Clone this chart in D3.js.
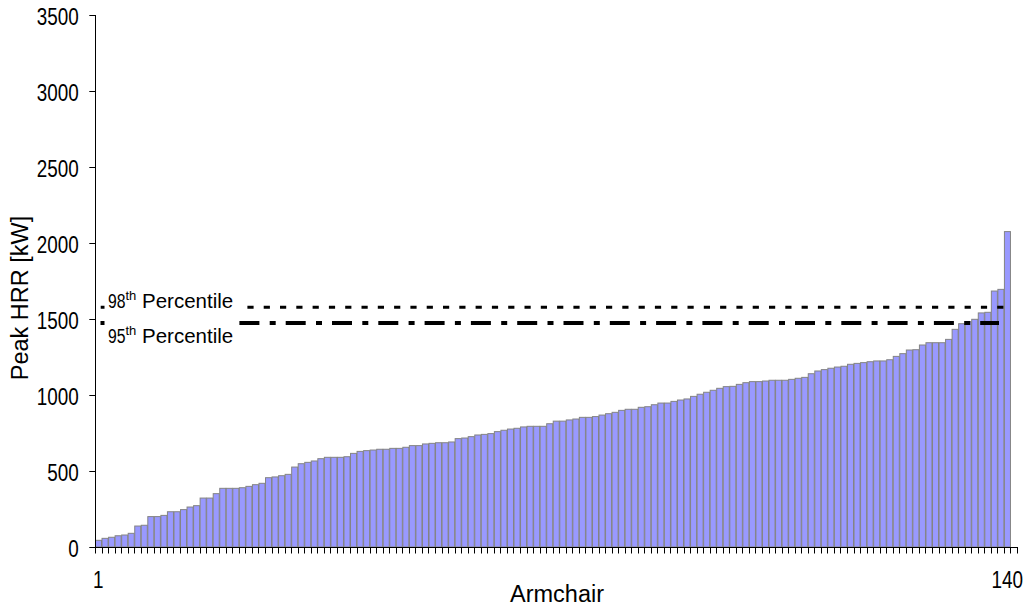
<!DOCTYPE html>
<html>
<head>
<meta charset="utf-8">
<script src="https://cdn.jsdelivr.net/npm/d3@7"></script>
<style>
  body { margin: 0; background: #fff; }
  text { font-family: "Liberation Sans", Arial, sans-serif; fill: #000; }
</style>
</head>
<body>
<div id="container"></div>
<script>
// peak heat release rate of each armchair, sorted (kW)
let peakHRR = [
  44, 57, 64, 74, 79, 90, 138, 143, 200, 200,
  208, 232, 232, 246, 263, 272, 322, 322, 351, 386,
  386, 386, 390, 399, 410, 419, 456, 461, 469, 478,
  526, 548, 557, 566, 581, 590, 590, 590, 594, 616,
  629, 634, 638, 643, 643, 649, 649, 656, 667, 667,
  678, 682, 686, 686, 691, 713, 717, 726, 737, 741,
  746, 759, 768, 776, 781, 790, 794, 794, 794, 811,
  828, 828, 836, 842, 853, 853, 858, 868, 877, 886,
  899, 906, 906, 919, 923, 936, 947, 947, 958, 967,
  974, 991, 1005, 1018, 1031, 1044, 1055, 1057, 1070, 1081,
  1088, 1088, 1092, 1097, 1097, 1097, 1103, 1110, 1116, 1140,
  1158, 1167, 1176, 1184, 1189, 1202, 1208, 1213, 1219, 1224,
  1224, 1232, 1254, 1272, 1296, 1298, 1329, 1344, 1344, 1344,
  1366, 1432, 1469, 1482, 1498, 1540, 1544, 1684, 1695, 2075
];
// one empty slot at the end of the category axis, as in the original sheet
let armchairs = d3.range(1, peakHRR.length + 2);
let xLabels = [1, 140];
let yTicks = [0, 500, 1000, 1500, 2000, 2500, 3000, 3500];
let percentiles = [
  {name: "98", value: 1577},
  {name: "95", value: 1474}
];

// the digits in the original are narrower than the letters
let digitWidth = 10.5;

let svg = d3.select("#container")
  .append("svg")
    .attr("width", 1028)
    .attr("height", 607)
;

let x = d3.scaleBand()
  .domain(armchairs)
  .range([95, 1017])
  .padding(0);

let y = d3.scaleLinear()
  .domain([0, 3500])
  .range([547, 15]);

// bars
svg.selectAll(".bar")
  .data(peakHRR)
  .enter()
  .append("rect")
    .attr("class", "bar")
    .attr("x", (d, i) => x(armchairs[i]) + 0.5)
    .attr("y", d => y(d))
    .attr("width", x.bandwidth() - 0.5)
    .attr("height", d => y(0) - y(d))
    .attr("fill", "#9999ff")
    .attr("stroke", "#848484")
    .attr("stroke-width", 1)
;

// percentile lines
function lineStyle(p) {
  return p.name == "98" ? "6.2,10.1" : "20,10.3,6,10";
}
svg.selectAll(".pline")
  .data(percentiles)
  .enter()
  .append("line")
    .attr("class", "pline")
    .attr("x1", d => d.name == "98" ? 100.7 : 100.5)
    .attr("x2", d => d.name == "98" ? 1004 : 999)
    .attr("y1", d => y(d.value))
    .attr("y2", d => y(d.value))
    .attr("stroke", "#000")
    .attr("stroke-width", d => d.name == "98" ? 3 : 4)
    .attr("stroke-dasharray", lineStyle)
;

// white label box over the start of the lines
svg.append("rect")
  .attr("x", 104.5)
  .attr("y", 288)
  .attr("width", 134)
  .attr("height", 60)
  .attr("fill", "#fff");

let labels = svg.selectAll(".plabel")
  .data(percentiles)
  .enter()
  .append("text")
    .attr("class", "plabel")
    .attr("x", 108)
    .attr("y", (d, i) => i == 0 ? 307.5 : 343)
    .style("font-size", "20.5px")
;
labels.append("tspan")
  .attr("textLength", 17.5)
  .attr("lengthAdjust", "spacingAndGlyphs")
  .text(d => d.name);
labels.append("tspan").attr("dy", -8).style("font-size", "13px").text("th");
labels.append("tspan").attr("dy", 8).text(" Percentile");

// y axis
let yAxis = svg.append("g")
  .attr("transform", "translate(95,0)")
  .call(d3.axisLeft(y).tickValues(yTicks).tickSize(5.7).tickPadding(10.5).tickFormat(d3.format("d")));
yAxis.select(".domain").attr("stroke", "#000").attr("d", "M0.5,15V547.5");
yAxis.selectAll(".tick line").attr("stroke", "#000");
yAxis.selectAll(".tick text")
  .attr("dy", "0.43em")
  .attr("textLength", d => String(d).length * digitWidth)
  .attr("lengthAdjust", "spacingAndGlyphs")
  .style("font-size", "23px")
  .style("font-family", null);

// x axis: baseline, ticks between categories
svg.append("line")
  .attr("x1", 95).attr("x2", 1017.5)
  .attr("y1", 547.5).attr("y2", 547.5)
  .attr("stroke", "#000");
svg.selectAll(".xtick")
  .data(armchairs.concat([armchairs.length + 1]))
  .enter()
  .append("line")
    .attr("class", "xtick")
    .attr("x1", d => Math.round(d <= armchairs.length ? x(d) : x.range()[1]) + 0.5)
    .attr("x2", d => Math.round(d <= armchairs.length ? x(d) : x.range()[1]) + 0.5)
    .attr("y1", 547)
    .attr("y2", 553.5)
    .attr("stroke", "#000")
;
svg.selectAll(".xlabel")
  .data(xLabels)
  .enter()
  .append("text")
    .attr("x", d => x(d) + x.bandwidth() / 2)
    .attr("y", 588)
    .attr("text-anchor", "middle")
    .attr("textLength", d => String(d).length * digitWidth)
    .attr("lengthAdjust", "spacingAndGlyphs")
    .style("font-size", "23px")
    .text(d => d)
;

// axis titles
svg.append("text")
  .attr("x", 557)
  .attr("y", 602)
  .attr("text-anchor", "middle")
  .style("font-size", "23.5px")
  .text("Armchair");

svg.append("text")
  .attr("transform", "translate(28,298) rotate(-90)")
  .attr("text-anchor", "middle")
  .style("font-size", "23.5px")
  .text("Peak HRR [kW]");
</script>
</body>
</html>
